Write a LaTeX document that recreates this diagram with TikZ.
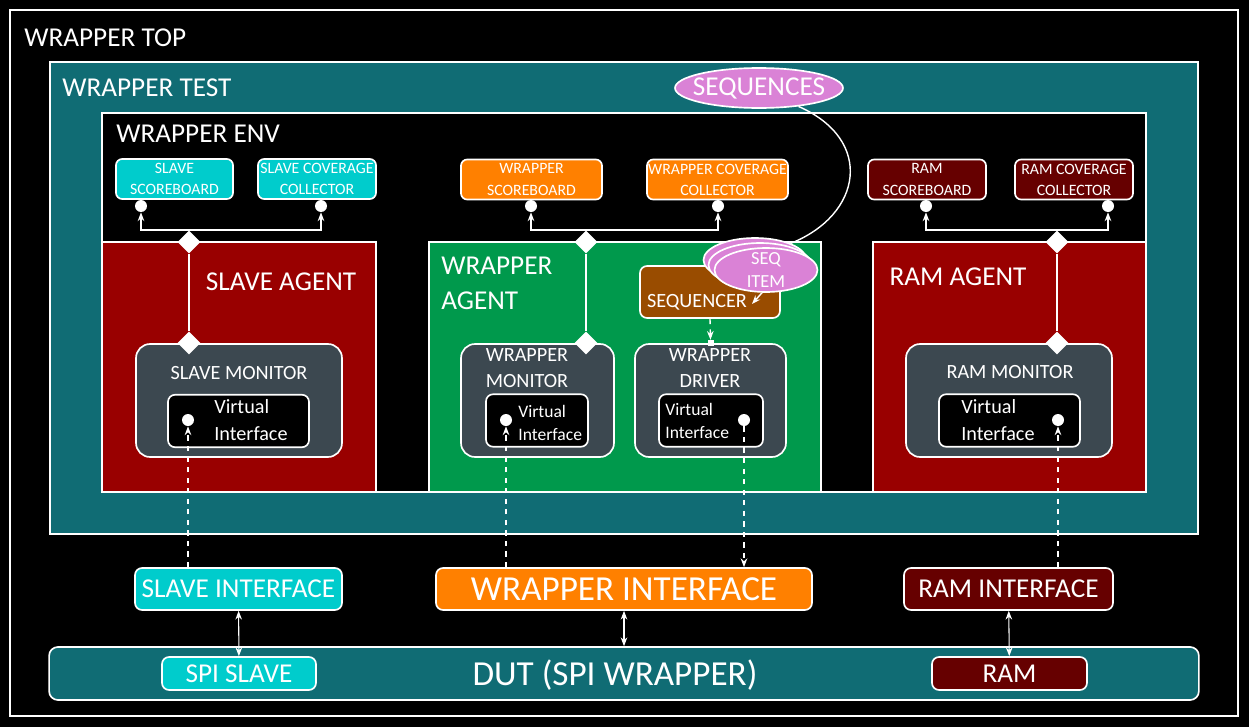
\documentclass[tikz,border=0pt]{standalone}
\usepackage{fontspec}
\setmainfont{Carlito}
\usetikzlibrary{shapes.geometric,arrows.meta,positioning}

\definecolor{testteal}{RGB}{16,108,116}
\definecolor{slavecyan}{RGB}{0,204,204}
\definecolor{wraporange}{RGB}{255,128,0}
\definecolor{agentred}{RGB}{153,0,0}
\definecolor{ramred}{RGB}{102,0,0}
\definecolor{agentgreen}{RGB}{0,153,76}
\definecolor{mongray}{RGB}{60,72,80}
\definecolor{seqbrown}{RGB}{153,76,0}
\definecolor{seqpink}{RGB}{218,130,214}

\begin{document}
\begin{tikzpicture}[x=0.02cm,y=-0.02cm]
\tikzstyle{box} = [rectangle, draw=white, line width=0.95pt, text=white, inner sep=0pt]
\tikzstyle{frame} = [box, fill=black]
\tikzstyle{title} = [text=white, font=\fontsize{15.5}{20}\selectfont, inner sep=0pt]
\tikzstyle{small} = [font=\fontsize{9}{12}\selectfont]
\tikzstyle{med} = [text=white, font=\fontsize{11.5}{15}\selectfont, inner sep=0pt, align=center]
\tikzstyle{big} = [font=\fontsize{15.5}{20}\selectfont]
\tikzstyle{huge} = [font=\fontsize{20}{24}\selectfont]
\tikzstyle{sbox} = [box, small, rounded corners=3.5pt, align=center, minimum height=0.8cm]
\tikzstyle{monbox} = [box, fill=mongray, rounded corners=8pt, minimum height=2.26cm]
\tikzstyle{vifbox} = [box, fill=black, rounded corners=4pt, minimum height=1.05cm]
\tikzstyle{ifbox} = [box, rounded corners=4pt, minimum height=0.84cm]
\tikzstyle{bubble} = [ellipse, draw=white, line width=0.95pt, fill=seqpink, inner sep=0pt]
\tikzstyle{port} = [circle, fill=white, minimum size=0.24cm, inner sep=0pt]
\tikzstyle{joint} = [diamond, fill=white, minimum size=0.46cm, inner sep=0pt]
\tikzstyle{link} = [white, line width=0.8pt]
\tikzstyle{arrow} = [white, line width=0.8pt, -{Stealth[length=5pt]}]
\tikzstyle{dasharrow} = [arrow, dashed]
\tikzstyle{both} = [white, line width=0.6pt, {Stealth[length=5pt]}-{Stealth[length=5pt]}]

\fill[black] (0,0) rectangle (1249,727);
\useasboundingbox (0,0) rectangle (1249,727);

% outer frames
\node (top) [frame, minimum width=24.56cm, minimum height=14.12cm] at (624,363) {};
\node (toplbl) [title, anchor=west] at (24,38) {WRAPPER TOP};
\node (test) [box, fill=testteal, minimum width=22.96cm, minimum height=9.44cm] at (624,298) {};
\node (testlbl) [title, anchor=west] at (62,88) {WRAPPER TEST};
\node (env) [frame, minimum width=20.88cm, minimum height=7.58cm] at (624,302.5) {};
\node (envlbl) [title, anchor=west] at (116,134) {WRAPPER ENV};

% agents
\node (slaveag) [box, fill=agentred, minimum width=5.48cm, minimum height=5cm] at (239,367) {};
\node (slaveaglbl) [title] at (281,282) {SLAVE AGENT};
\node (wrapag) [box, fill=agentgreen, minimum width=7.84cm, minimum height=5cm] at (625,367) {};
\node (wrapaglbl) [title, align=left, anchor=north west] at (441,257) {WRAPPER\\AGENT};
\node (ramag) [box, fill=agentred, minimum width=5.46cm, minimum height=5cm] at (1009.5,367) {};
\node (ramaglbl) [title] at (958,277) {RAM AGENT};

% scoreboards and coverage
\node (slavesb) [sbox, fill=slavecyan, minimum width=2.34cm] at (174.5,179) {SLAVE\\SCOREBOARD};
\node (slavecov) [sbox, fill=slavecyan, minimum width=2.36cm] at (317,179) {SLAVE COVERAGE\\COLLECTOR};
\node (wrapsb) [sbox, fill=wraporange, minimum width=2.82cm] at (531.5,179.5) {WRAPPER\\SCOREBOARD};
\node (wrapcov) [sbox, fill=wraporange, minimum width=2.82cm] at (717.5,179.5) {WRAPPER COVERAGE\\COLLECTOR};
\node (ramsb) [sbox, fill=ramred, minimum width=2.36cm] at (927,179.5) {RAM\\SCOREBOARD};
\node (ramcov) [sbox, fill=ramred, minimum width=2.36cm] at (1074,179.5) {RAM COVERAGE\\COLLECTOR};

\node (slavesbpt) [port] at (141,206) {};
\node (slavecovpt) [port] at (321,206) {};
\node (wrapsbpt) [port] at (531,206) {};
\node (wrapcovpt) [port] at (718,206) {};
\node (ramsbpt) [port] at (926,206) {};
\node (ramcovpt) [port] at (1108,206) {};

% monitors and driver
\node (slavemon) [monbox, minimum width=4.12cm] at (239,400.5) {};
\node (slavemonlbl) [med] at (239,373) {SLAVE MONITOR};
\node (slavevif) [vifbox, minimum width=2.82cm] at (238.5,421) {};
\node (slaveviflbl) [med, align=left, anchor=west] at (214,420) {Virtual\\Interface};
\node (slavevifpt) [port] at (188,420) {};

\node (wrapmon) [monbox, minimum width=3.06cm] at (537.5,400.5) {};
\node (wrapmonlbl) [med] at (527,368) {WRAPPER\\MONITOR};
\node (wrapmonvif) [vifbox, minimum width=2.04cm] at (537,420.5) {};
\node (wrapmonviflbl) [med, font=\fontsize{10}{13.5}\selectfont, align=left, anchor=west] at (518,423) {Virtual\\Interface};
\node (wrapmonpt) [port] at (506,420) {};

\node (wrapdrv) [monbox, minimum width=3.02cm] at (710.5,400.5) {};
\node (wrapdrvlbl) [med] at (710,368) {WRAPPER\\DRIVER};
\node (wrapdrvvif) [vifbox, minimum width=2.08cm] at (711,420.5) {};
\node (wrapdrvviflbl) [med, font=\fontsize{10}{13.5}\selectfont, align=left, anchor=west] at (665,421) {Virtual\\Interface};
\node (drvpt) [port] at (744,420) {};

\node (rammon) [monbox, minimum width=4.12cm] at (1009,400.5) {};
\node (rammonlbl) [med] at (1010,372) {RAM MONITOR};
\node (ramvif) [vifbox, minimum width=2.82cm] at (1009.5,420.5) {};
\node (ramviflbl) [med, align=left, anchor=west] at (961,420) {Virtual\\Interface};
\node (ramvifpt) [port] at (1058,420) {};

% sequencer and items
\node (seqr) [box, fill=seqbrown, rounded corners=4pt, minimum width=2.8cm, minimum height=1.04cm] at (710,292) {};
\node (seqrlbl) [med] at (697,302) {SEQUENCER};
\node (seqback) [bubble, minimum width=2.06cm, minimum height=0.88cm] at (755,260) {};
\node (seqmid) [bubble, minimum width=2.06cm, minimum height=0.88cm] at (760,265) {};
\node (seqfront) [bubble, minimum width=2.06cm, minimum height=0.88cm,
  label={[med, font=\fontsize{10.5}{13.5}\selectfont]center:SEQ\\ITEM}] at (766,270) {};
\node (seqs) [bubble, minimum width=3.36cm, minimum height=0.8cm,
  label={[title]center:SEQUENCES}] at (759,88) {};
\coordinate (seqin) at (752,304);
\node (drvin) [fill=white, minimum size=0.12cm, inner sep=0pt] at (wrapdrv.north) {};

% interfaces and dut
\node (slaveif) [ifbox, big, fill=slavecyan, minimum width=4.14cm] at (238.5,589) {SLAVE INTERFACE};
\node (wrapif) [ifbox, huge, fill=wraporange, minimum width=7.52cm] at (624,589) {WRAPPER INTERFACE};
\node (ramif) [ifbox, big, fill=ramred, minimum width=4.18cm] at (1008.5,589) {RAM INTERFACE};
\node (dut) [box, fill=testteal, rounded corners=5pt, minimum width=23cm, minimum height=1.06cm] at (624,673.5) {};
\node (dutlbl) [huge, text=white] at (615,675) {DUT (SPI WRAPPER)};
\node (spislave) [ifbox, big, fill=slavecyan, minimum width=3.08cm, minimum height=0.66cm] at (239,673.5) {SPI SLAVE};
\node (ram) [ifbox, big, fill=ramred, minimum width=3.1cm, minimum height=0.66cm] at (1009.5,673.5) {RAM};

% analysis connections
\node (slavetopj) [joint] at (189,242) {};
\node (slavemonj) [joint] at (189,343) {};
\node (waptopj) [joint] at (586,242) {};
\node (wrapmonj) [joint] at (586,343) {};
\node (ramtopj) [joint] at (1057,242) {};
\node (rammonj) [joint] at (1057,343) {};

\draw [link] (slavetopj) -- (slavemonj);
\draw [link] (waptopj) -- (wrapmonj);
\draw [link] (ramtopj) -- (rammonj);
\draw [arrow] (slavetopj.north) -| (slavesbpt);
\draw [arrow] (slavetopj.north) -| (slavecovpt);
\draw [arrow] (waptopj.north) -| (wrapsbpt);
\draw [arrow] (waptopj.north) -| (wrapcovpt);
\draw [arrow] (ramtopj.north) -| (ramsbpt);
\draw [arrow] (ramtopj.north) -| (ramcovpt);

% interface links
\draw [dasharrow] (slaveif.north -| slavevifpt) -- (slavevifpt);
\draw [dasharrow] (wrapif.north -| wrapmonpt) -- (wrapmonpt);
\draw [dasharrow] (drvpt) -- (drvpt |- wrapif.north);
\draw [dasharrow] (ramif.north -| ramvifpt) -- (ramvifpt);
\draw [dasharrow] (seqr.south) -- (drvin.north);
\draw [arrow] (seqfront.260) -- (seqin);
\draw [link] (seqs.-25) .. controls (875,140) and (862,215) .. (seqback.25);

\draw [both] (slaveif) -- (spislave);
\draw [both] (wrapif) -- (dut);
\draw [both] (ramif) -- (ram);

\end{tikzpicture}
\end{document}
